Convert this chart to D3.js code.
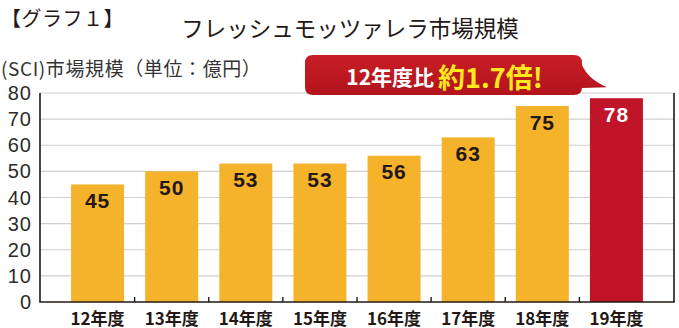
<!DOCTYPE html>
<html>
<head>
<meta charset="utf-8">
<script src="https://cdn.jsdelivr.net/npm/d3@7"></script>
<style>
  html, body { margin: 0; padding: 0; background: #fff; }
  svg { display: block; }
  text { font-family: "Noto Sans CJK JP", "Noto Sans", sans-serif; fill: #231815; }
</style>
</head>
<body>
<svg id="chart" width="679" height="328"></svg>
<script>
// Fresh mozzarella market size, 100 million yen
const categories = ["12年度", "13年度", "14年度", "15年度", "16年度", "17年度", "18年度", "19年度"];
const values = [45, 50, 53, 53, 56, 63, 75, 78];
const yTicks = [0, 10, 20, 30, 40, 50, 60, 70, 80];
const highlight = "19年度";

const W = 679, H = 328;
const plot = { left: 40, right: 674, top: 93, bottom: 302 };
const numFont = '"Liberation Sans", Arial, sans-serif';

const svg = d3.select("#chart");

const x = d3.scaleBand()
  .domain(categories)
  .range([60.5, 653.5])
  .paddingInner(0.285)
  .paddingOuter(0.1425);

const y = d3.scaleLinear()
  .domain([0, 80])
  .range([plot.bottom, plot.top]);

// Titles
svg.append("text")
  .attr("x", 1).attr("y", 17)
  .attr("dominant-baseline", "central")
  .style("font-size", "20px")
  .style("letter-spacing", "0.5px")
  .text("【グラフ１】");

svg.append("text")
  .attr("x", 350).attr("y", 27)
  .attr("text-anchor", "middle")
  .attr("dominant-baseline", "central")
  .style("font-size", "22.5px")
  .text("フレッシュモッツァレラ市場規模");

svg.append("text")
  .attr("x", 1).attr("y", 67)
  .attr("dominant-baseline", "central")
  .style("font-size", "19px")
  .style("letter-spacing", "0.6px")
  .style("fill", "#333")
  .text("(SCI)市場規模（単位：億円）");

// Gridlines
svg.append("g")
  .selectAll("line")
  .data(yTicks.filter(d => d > 0))
  .join("line")
  .attr("x1", plot.left).attr("x2", plot.right)
  .attr("y1", d => y(d)).attr("y2", d => y(d))
  .attr("stroke", "#cfcfcf")
  .attr("stroke-width", 1.2);

// Y axis labels
svg.append("g")
  .selectAll("text")
  .data(yTicks)
  .join("text")
  .attr("x", 32)
  .attr("y", d => y(d))
  .attr("text-anchor", "end")
  .attr("dominant-baseline", "central")
  .style("font-family", numFont)
  .style("font-size", "20px")
  .style("letter-spacing", "1px")
  .style("fill", "#2b2b2b")
  .text(d => d);

// Bars
svg.append("g")
  .selectAll("rect")
  .data(categories)
  .join("rect")
  .attr("x", d => x(d))
  .attr("y", (d, i) => y(values[i]))
  .attr("width", x.bandwidth())
  .attr("height", (d, i) => y(0) - y(values[i]))
  .attr("fill", d => d === highlight ? "#c11428" : "#f5b22b");

// Value labels
svg.append("g")
  .selectAll("text")
  .data(categories)
  .join("text")
  .attr("x", d => x(d) + x.bandwidth() / 2)
  .attr("y", (d, i) => y(values[i]) + 16)
  .attr("text-anchor", "middle")
  .attr("dominant-baseline", "central")
  .style("font-family", numFont)
  .style("font-size", "21px")
  .style("font-weight", "bold")
  .style("letter-spacing", "1px")
  .style("fill", d => d === highlight ? "#ffffff" : "#231815")
  .text((d, i) => values[i]);

// Axis frame
const frame = svg.append("g").attr("stroke", "#231815").attr("fill", "none");
frame.append("line")
  .attr("x1", plot.left).attr("x2", plot.left)
  .attr("y1", plot.top).attr("y2", plot.bottom)
  .attr("stroke-width", 1.6);
frame.append("line")
  .attr("x1", plot.right).attr("x2", plot.right)
  .attr("y1", plot.top).attr("y2", plot.bottom)
  .attr("stroke-width", 1.6);
frame.append("line")
  .attr("x1", plot.left - 0.8).attr("x2", plot.right + 0.8)
  .attr("y1", plot.bottom).attr("y2", plot.bottom)
  .attr("stroke-width", 1.6);

// Small ticks between categories
const step = x.step();
frame.selectAll("line.tick")
  .data(categories.slice(0, -1))
  .join("line")
  .attr("class", "tick")
  .attr("x1", d => x(d) + x.bandwidth() + (step - x.bandwidth()) / 2)
  .attr("x2", d => x(d) + x.bandwidth() + (step - x.bandwidth()) / 2)
  .attr("y1", plot.bottom).attr("y2", plot.bottom - 5)
  .attr("stroke-width", 1.4);

// Category labels
svg.append("g")
  .selectAll("text")
  .data(categories)
  .join("text")
  .attr("x", d => x(d) + x.bandwidth() / 2)
  .attr("y", 317)
  .attr("text-anchor", "middle")
  .attr("dominant-baseline", "central")
  .style("font-size", "17px")
  .style("font-weight", "bold")
  .text(d => d);

// Callout bubble
const bx0 = 305, bx1 = 582, by0 = 55, by1 = 95, r = 8;
const tipX = x(highlight) + 17, tipY = y(78) - 11;
const bubble = d3.path();
bubble.moveTo(bx0 + r, by0);
bubble.lineTo(bx1 - r, by0);
bubble.quadraticCurveTo(bx1, by0, bx1, by0 + r);
bubble.lineTo(bx1, by0 + 10);
bubble.quadraticCurveTo(bx1 + 6, by0 + 24, tipX, tipY);
bubble.lineTo(bx1, by1 - 7);
bubble.lineTo(bx1, by1 - r);
bubble.quadraticCurveTo(bx1, by1, bx1 - r, by1);
bubble.lineTo(bx0 + r, by1);
bubble.quadraticCurveTo(bx0, by1, bx0, by1 - r);
bubble.lineTo(bx0, by0 + r);
bubble.quadraticCurveTo(bx0, by0, bx0 + r, by0);
bubble.closePath();

const defs = svg.append("defs");
const grad = defs.append("linearGradient")
  .attr("id", "bubbleFill").attr("x1", 0).attr("y1", 0).attr("x2", 0).attr("y2", 1);
grad.append("stop").attr("offset", "0%").attr("stop-color", "#c81d26");
grad.append("stop").attr("offset", "100%").attr("stop-color", "#b3141d");

svg.append("path")
  .attr("d", bubble.toString())
  .attr("fill", "url(#bubbleFill)");

const callout = svg.append("text")
  .attr("x", (bx0 + bx1) / 2 + 1)
  .attr("y", 76)
  .attr("text-anchor", "middle")
  .attr("dominant-baseline", "central")
  .style("font-weight", "bold");
callout.append("tspan")
  .style("font-size", "21px")
  .style("fill", "#ffffff")
  .text("12年度比");
callout.append("tspan")
  .attr("dx", 4)
  .style("font-size", "27px")
  .style("fill", "#ffe81c")
  .text("約1.7倍!");
</script>
</body>
</html>
